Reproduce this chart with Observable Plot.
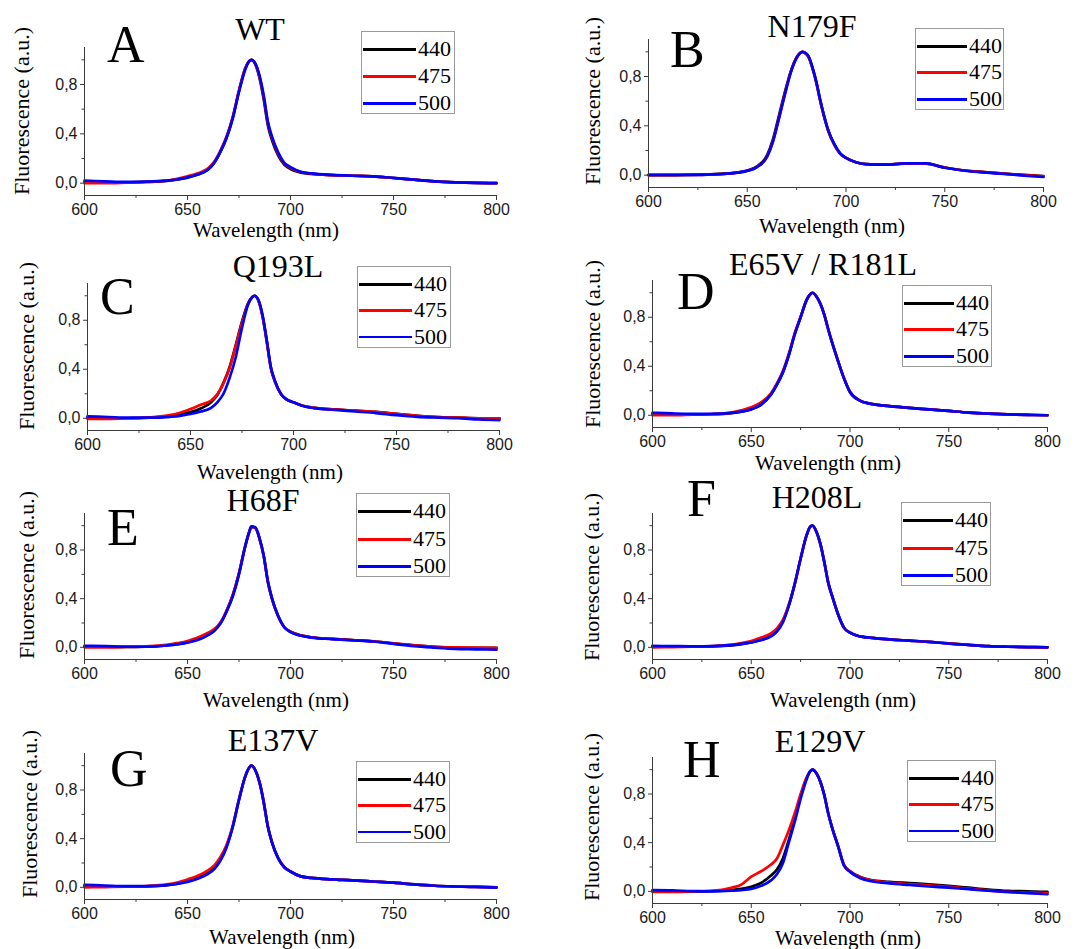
<!DOCTYPE html>
<html><head><meta charset="utf-8">
<script src="https://cdn.jsdelivr.net/npm/d3@7"></script>
<script src="https://cdn.jsdelivr.net/npm/@observablehq/plot@0.6"></script>
<style>
body{margin:0;background:#fff;}
#fig{position:relative;width:1085px;height:949px;overflow:hidden;background:#fff;color:#000;}
.abs{position:absolute;white-space:nowrap;line-height:1;font-family:"Liberation Serif","Times New Roman",Times,serif;font-weight:normal;}
.ctr{transform:translate(-50%,-50%);}
.rot{transform:translate(-50%,-50%) rotate(-90deg);}
.legend{position:absolute;border:1px solid #9a9a9a;box-sizing:border-box;background:#fff;}
.plotbox{position:absolute;}
</style></head><body><div id="fig"></div>
<script>
// ---------------- data ----------------
const wavelengths = [600,610,620,630,640,645,650,655,660,663,666,669,672,675,678,680,681,683,685,687,689,691,694,697,700,705,710,720,730,740,750,760,770,780,790,800];
const excitation = ["440","475","500"];
const panelLetters = ["A","B","C","D","E","F","G","H"];
const panelTitles = ["WT","N179F","Q193L","E65V / R181L","H68F","H208L","E137V","E129V"];
const xMajorTicks = [600,650,700,750,800];
const xMinorTicks = [625,675,725,775];
const yMajorTicks = [0,0.4,0.8];
const yMinorTicks = [0.2,0.6,1.0];
const xDomain = [600,800];
const yDomain = [-0.1,1.1];

// A: WT
const wt440 = [0.010,0.008,0.006,0.010,0.018,0.030,0.045,0.070,0.110,0.165,0.255,0.370,0.530,0.750,0.930,0.990,1.000,0.960,0.850,0.680,0.470,0.350,0.225,0.150,0.115,0.085,0.075,0.065,0.060,0.055,0.042,0.028,0.015,0.007,0.002,0.000];
const wt475 = [0.000,0.000,0.004,0.010,0.020,0.035,0.055,0.080,0.120,0.175,0.265,0.380,0.540,0.750,0.930,0.990,1.000,0.965,0.860,0.700,0.490,0.370,0.240,0.160,0.125,0.090,0.078,0.065,0.060,0.055,0.042,0.028,0.015,0.007,0.002,0.000];
const wt500 = [0.020,0.015,0.010,0.012,0.020,0.030,0.048,0.070,0.110,0.165,0.255,0.370,0.530,0.740,0.920,0.990,1.000,0.970,0.870,0.710,0.500,0.380,0.250,0.165,0.130,0.093,0.080,0.067,0.060,0.055,0.043,0.028,0.015,0.007,0.002,0.000];
// B: N179F
const n440 = [0.000,0.000,0.002,0.006,0.014,0.022,0.038,0.072,0.160,0.290,0.480,0.670,0.840,0.955,1.000,0.980,0.960,0.870,0.750,0.600,0.470,0.360,0.250,0.175,0.140,0.105,0.090,0.085,0.095,0.095,0.062,0.038,0.025,0.013,0.002,-0.008];
const n475 = [0.000,0.000,0.002,0.005,0.012,0.020,0.036,0.068,0.150,0.275,0.460,0.655,0.835,0.955,1.000,0.980,0.960,0.870,0.750,0.600,0.470,0.360,0.250,0.175,0.140,0.105,0.090,0.085,0.093,0.093,0.062,0.038,0.025,0.013,0.000,-0.010];
const n500 = [0.002,0.002,0.002,0.005,0.012,0.020,0.035,0.066,0.148,0.270,0.455,0.650,0.830,0.950,1.000,0.985,0.965,0.875,0.755,0.605,0.475,0.365,0.255,0.178,0.140,0.105,0.090,0.085,0.095,0.095,0.060,0.036,0.022,0.010,-0.003,-0.015];
// C: Q193L
const q440 = [0.005,0.000,0.000,0.005,0.018,0.030,0.050,0.080,0.130,0.190,0.290,0.420,0.600,0.790,0.940,0.990,1.000,0.960,0.830,0.630,0.410,0.300,0.195,0.150,0.130,0.100,0.085,0.072,0.062,0.052,0.035,0.020,0.010,0.005,0.000,0.000];
const q475 = [-0.005,-0.005,0.000,0.008,0.025,0.045,0.075,0.110,0.145,0.195,0.285,0.410,0.590,0.780,0.935,0.990,1.000,0.960,0.830,0.630,0.410,0.300,0.195,0.150,0.130,0.100,0.085,0.072,0.062,0.052,0.035,0.020,0.010,0.005,0.000,0.000];
const q500 = [0.015,0.010,0.005,0.005,0.012,0.020,0.035,0.055,0.085,0.130,0.200,0.330,0.500,0.740,0.930,0.990,1.000,0.965,0.840,0.640,0.420,0.305,0.195,0.150,0.130,0.098,0.082,0.068,0.055,0.042,0.025,0.012,0.005,0.000,-0.010,-0.015];
// D: E65V / R181L
const d440 = [0.010,0.005,0.005,0.008,0.018,0.030,0.050,0.085,0.170,0.250,0.350,0.490,0.660,0.800,0.940,0.990,1.000,0.970,0.910,0.820,0.700,0.590,0.440,0.300,0.190,0.120,0.095,0.075,0.060,0.048,0.035,0.022,0.013,0.007,0.003,0.000];
const d475 = [0.000,0.000,0.005,0.010,0.022,0.040,0.065,0.105,0.180,0.260,0.360,0.500,0.670,0.805,0.940,0.990,1.000,0.970,0.910,0.820,0.700,0.590,0.440,0.300,0.190,0.120,0.095,0.075,0.060,0.048,0.035,0.022,0.013,0.007,0.003,0.000];
const d500 = [0.020,0.015,0.012,0.012,0.020,0.030,0.048,0.090,0.170,0.250,0.350,0.490,0.660,0.800,0.940,0.990,1.000,0.970,0.910,0.820,0.700,0.590,0.440,0.300,0.190,0.120,0.095,0.075,0.060,0.048,0.035,0.022,0.013,0.007,0.003,0.000];
// E: H68F
const e440 = [0.005,0.005,0.003,0.005,0.016,0.028,0.042,0.066,0.105,0.140,0.200,0.300,0.430,0.610,0.830,0.950,0.990,0.980,0.890,0.750,0.540,0.400,0.255,0.165,0.128,0.098,0.083,0.070,0.060,0.050,0.032,0.016,0.004,-0.003,-0.005,-0.005];
const e475 = [0.000,0.000,0.003,0.008,0.020,0.034,0.052,0.080,0.120,0.150,0.205,0.300,0.430,0.610,0.830,0.950,0.990,0.980,0.890,0.750,0.540,0.400,0.255,0.165,0.128,0.098,0.083,0.070,0.060,0.050,0.032,0.016,0.005,0.000,-0.003,-0.005];
const e500 = [0.012,0.010,0.005,0.005,0.015,0.025,0.038,0.060,0.100,0.135,0.195,0.295,0.420,0.600,0.830,0.950,0.995,0.985,0.895,0.755,0.545,0.405,0.260,0.165,0.125,0.095,0.080,0.068,0.058,0.048,0.028,0.010,-0.002,-0.012,-0.016,-0.020];
// F: H208L
const f440 = [0.008,0.006,0.006,0.008,0.016,0.026,0.040,0.060,0.095,0.140,0.215,0.345,0.520,0.730,0.920,0.995,1.000,0.950,0.850,0.700,0.530,0.420,0.270,0.160,0.120,0.090,0.080,0.065,0.055,0.045,0.032,0.020,0.010,0.005,0.002,0.000];
const f475 = [0.000,0.002,0.005,0.010,0.022,0.035,0.052,0.080,0.115,0.155,0.225,0.350,0.520,0.730,0.920,0.995,1.000,0.950,0.850,0.700,0.530,0.420,0.270,0.160,0.120,0.090,0.080,0.065,0.055,0.045,0.032,0.020,0.010,0.005,0.002,0.000];
const f500 = [0.012,0.010,0.008,0.010,0.018,0.028,0.040,0.060,0.090,0.130,0.205,0.340,0.520,0.730,0.920,0.995,1.000,0.950,0.850,0.700,0.530,0.420,0.270,0.160,0.120,0.090,0.080,0.065,0.055,0.045,0.030,0.020,0.010,0.005,0.002,0.000];
// G: E137V
const g440 = [0.010,0.008,0.006,0.008,0.018,0.030,0.050,0.080,0.120,0.160,0.230,0.340,0.500,0.720,0.910,0.985,1.000,0.960,0.860,0.700,0.500,0.370,0.240,0.165,0.130,0.090,0.078,0.066,0.058,0.048,0.038,0.024,0.013,0.007,0.003,0.000];
const g475 = [0.000,0.002,0.005,0.010,0.024,0.040,0.065,0.095,0.140,0.180,0.250,0.350,0.510,0.725,0.910,0.985,1.000,0.960,0.860,0.700,0.500,0.370,0.240,0.165,0.130,0.090,0.078,0.066,0.058,0.048,0.038,0.024,0.013,0.007,0.003,0.000];
const g500 = [0.020,0.015,0.010,0.010,0.018,0.028,0.045,0.070,0.110,0.150,0.220,0.330,0.500,0.720,0.910,0.985,1.000,0.960,0.860,0.700,0.500,0.370,0.240,0.165,0.130,0.090,0.078,0.066,0.058,0.048,0.038,0.024,0.013,0.007,0.003,-0.003];
// H: E129V
const h440 = [0.000,0.000,0.000,0.002,0.010,0.020,0.038,0.070,0.130,0.180,0.270,0.420,0.600,0.780,0.930,0.990,1.000,0.970,0.900,0.790,0.640,0.520,0.370,0.215,0.165,0.120,0.095,0.078,0.068,0.058,0.045,0.030,0.015,0.004,0.000,-0.005];
const h475 = [-0.005,-0.005,0.000,0.005,0.030,0.055,0.120,0.165,0.220,0.270,0.380,0.500,0.640,0.800,0.935,0.990,1.000,0.970,0.900,0.790,0.640,0.520,0.370,0.215,0.165,0.118,0.092,0.072,0.060,0.050,0.038,0.022,0.008,-0.005,-0.010,-0.014];
const h500 = [0.010,0.008,0.002,0.000,0.005,0.010,0.020,0.045,0.090,0.140,0.230,0.400,0.570,0.760,0.920,0.990,1.000,0.970,0.900,0.790,0.640,0.520,0.370,0.210,0.160,0.110,0.085,0.065,0.052,0.040,0.030,0.018,0.005,-0.005,-0.015,-0.024];

const spectra = [
  [wt440, wt475, wt500], [n440, n475, n500], [q440, q475, q500], [d440, d475, d500],
  [e440, e475, e500], [f440, f475, f500], [g440, g475, g500], [h440, h475, h500]
];

// ---------------- layout & style ----------------
const lineColors = ["#000000", "#ff0000", "#0000ff"];
const layout = [
  {frame:[84,47,496,195],  letter:[107,28],  title:[260,29],  legend:[361,31,455,114], ylab:[22,111], xlab:[266,230], thin:false},
  {frame:[648,39,1043,187],letter:[670,33],  title:[812,26],  legend:[915,28,1004,110], ylab:[593,101], xlab:[832,226], thin:false},
  {frame:[87,283,499,430], letter:[100,280], title:[278,266], legend:[357,266,451,348], ylab:[27,346], xlab:[270,472], thin:true},
  {frame:[652,280,1047,427],letter:[677,275],title:[823,264], legend:[902,285,992,367], ylab:[593,344], xlab:[828,463], thin:false},
  {frame:[84,513,496,659], letter:[107,511], title:[263,500], legend:[356,493,450,577], ylab:[27,575], xlab:[276,700], thin:false},
  {frame:[652,513,1047,659],letter:[687,482],title:[817,497], legend:[901,502,991,586], ylab:[592,577], xlab:[843,700], thin:false},
  {frame:[84,753,496,899], letter:[110,752], title:[273,740], legend:[356,761,450,843], ylab:[30,814], xlab:[282,937], thin:true},
  {frame:[652,757,1047,903],letter:[683,743],title:[820,741], legend:[907,760,996,842], ylab:[592,817], xlab:[848,938], thin:true}
];
const M = {l:45, r:18, t:6, b:30};
const sans = "'Liberation Sans', Arial, sans-serif";
const serif = "'Liberation Serif', 'Times New Roman', Times, serif";
const axisColor = "#3a3a3a";

const fig = document.getElementById("fig");
function addText(parent, txt, cls, x, y, size) {
  const d = document.createElement("div");
  d.className = "abs " + cls;
  d.style.left = x + "px"; d.style.top = y + "px"; d.style.fontSize = size + "px";
  d.style.fontFamily = serif;
  d.textContent = txt;
  parent.appendChild(d);
  return d;
}

layout.forEach((L, i) => {
  const [x1, y1, x2, y2] = L.frame;
  const rows = [];
  spectra[i].forEach((arr, s) => arr.forEach((v, k) => rows.push({wl: wavelengths[k], v, ex: excitation[s]})));
  const chart = Plot.plot({
    width: (x2 - x1) + M.l + M.r,
    height: (y2 - y1) + M.t + M.b,
    marginLeft: M.l, marginRight: M.r, marginTop: M.t, marginBottom: M.b,
    x: {domain: xDomain},
    y: {domain: yDomain},
    style: {background: "transparent", overflow: "visible", fontFamily: sans},
    marks: [
      ...excitation.map((ex, s) => Plot.line(rows.filter(r => r.ex === ex), {
        x: "wl", y: "v", stroke: lineColors[s], strokeWidth: 2.7, curve: "monotone-x"
      })),
      Plot.ruleX([xDomain[0]], {stroke: axisColor, strokeWidth: 1}),
      Plot.ruleY([yDomain[0]], {stroke: axisColor, strokeWidth: 1}),
      Plot.axisX(xMajorTicks, {tickSize: 5, tickPadding: 3, tickFormat: d => String(d), fontSize: 16, color: "#1a1a1a", stroke: axisColor, label: null}),
      Plot.axisX(xMinorTicks, {tickSize: 3, text: null, stroke: axisColor, label: null}),
      Plot.axisY(yMajorTicks, {tickSize: 4, tickPadding: 3, tickFormat: d => d.toFixed(1).replace(".", ","), fontSize: 16, color: "#1a1a1a", stroke: axisColor, label: null}),
      Plot.axisY(yMinorTicks, {tickSize: 2.5, text: null, stroke: axisColor, label: null})
    ]
  });
  const box = document.createElement("div");
  box.className = "plotbox";
  box.style.left = (x1 - M.l) + "px";
  box.style.top = (y1 - M.t) + "px";
  box.appendChild(chart);
  fig.appendChild(box);

  addText(fig, panelLetters[i], "", L.letter[0], L.letter[1] - 9, 52);
  addText(fig, panelTitles[i], "ctr", L.title[0], L.title[1], 32);
  addText(fig, "Fluorescence (a.u.)", "rot", L.ylab[0], L.ylab[1], 22);
  addText(fig, "Wavelength (nm)", "ctr", L.xlab[0], L.xlab[1], 21);

  const [lx1, ly1, lx2, ly2] = L.legend;
  const lg = document.createElement("div");
  lg.className = "legend";
  lg.style.left = lx1 + "px"; lg.style.top = ly1 + "px";
  lg.style.width = (lx2 - lx1) + "px"; lg.style.height = (ly2 - ly1) + "px";
  const bw = lx2 - lx1, bh = ly2 - ly1;
  const lineLen = Math.round(bw * 0.56);
  excitation.forEach((ex, s) => {
    const cy = Math.round(bh * (0.205 + s * 0.325));
    const thick = (L.thin && s === 2) ? 1.6 : 3;
    const ln = document.createElement("div");
    ln.style.cssText = `position:absolute;left:1px;top:${cy - thick/2}px;width:${lineLen}px;height:${thick}px;background:${lineColors[s]};`;
    lg.appendChild(ln);
    const tx = addText(lg, ex, "", lineLen + 3, cy, 22);
    tx.style.transform = "translateY(-50%)";
  });
  fig.appendChild(lg);
});
</script></body></html>
